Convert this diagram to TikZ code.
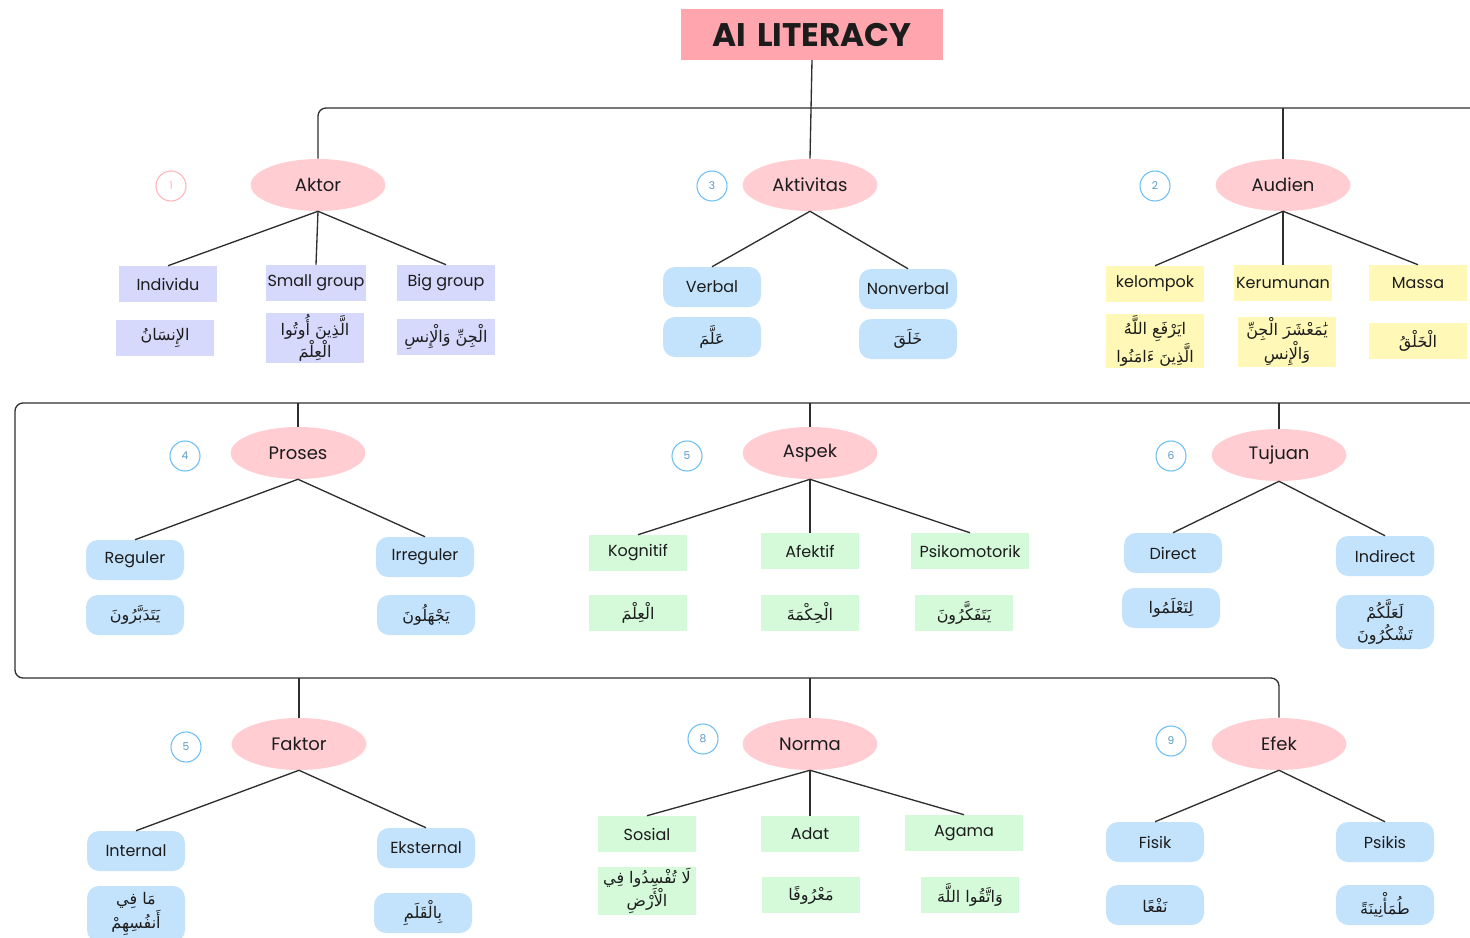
\documentclass[tikz,border=0pt]{standalone}
\usepackage{fontspec}
\usetikzlibrary{shapes.geometric}
\setmainfont{Poppins}
\newfontfamily\arabicfont[Script=Arabic]{DejaVu Sans}
\TeXXeTstate=1
\newcommand{\ar}[1]{{\arabicfont\beginR #1\endR}}
\definecolor{titlepink}{HTML}{FFA5AE}
\definecolor{catpink}{HTML}{FFCDD2}
\definecolor{lav}{HTML}{D6D8FC}
\definecolor{sky}{HTML}{C3E3FD}
\definecolor{lemon}{HTML}{FFF8B6}
\definecolor{mint}{HTML}{D4FADA}
\definecolor{ringpink}{HTML}{FFB3BB}
\definecolor{ringblue}{HTML}{6DBEF3}
\definecolor{ink}{HTML}{1C1C1C}
\definecolor{wire}{HTML}{2E2E2E}
\tikzset{
  cat/.style={ellipse, fill=catpink, minimum width=101pt, minimum height=39pt, inner sep=0pt,
    text=ink, font=\fontsize{13.5}{16}\selectfont},
  flat/.style={rectangle, minimum width=73.5pt, minimum height=27pt, inner sep=1pt,
    text=ink, align=center, font=\fontsize{12}{14}\selectfont},
  lavbox/.style={flat, fill=lav},
  lembox/.style={flat, fill=lemon},
  mintbox/.style={flat, fill=mint},
  skybox/.style={flat, fill=sky, rounded corners=9pt, minimum height=30pt},
  num/.style={circle, draw, line width=0.8pt, minimum size=22.5pt, inner sep=0pt,
    font=\fontsize{8}{9}\selectfont},
  numpink/.style={num, draw=ringpink, text=ringpink},
  numblue/.style={num, draw=ringblue, text=ringblue!80!black},
  link/.style={draw=wire, line width=1pt},
}
\begin{document}
\begin{tikzpicture}[x=0.75pt,y=-0.75pt]
\useasboundingbox (0,0) rectangle (1470,938);

% title
\node[rectangle, fill=titlepink, minimum width=196.5pt, minimum height=38pt, inner sep=0pt,
  text=ink, font=\fontsize{24.5}{28}\bfseries\selectfont] (title) at (812,34.5) {AI\,\,LITERACY};

% ---------- first row ----------
\node[cat] (aktor) at (318,185) {Aktor};
\node[cat] (aktiv) at (810,185) {Aktivitas};
\node[cat] (audien) at (1283,185) {Audien};

\node[numpink] (n1) at (171,186) {1};
\node[numblue] (n3) at (712,186) {3};
\node[numblue] (n2) at (1155,186) {2};

\coordinate (topR) at (1470,108);
\draw[link] (title.south) -- (aktiv.north);
\draw[link, rounded corners=6pt] (aktor.north) |- (topR);
\draw[link] (audien.north) -- (audien.north |- topR);

% Aktor
\node[lavbox] (indiv) at (168,284) {Individu};
\node[lavbox] (small) at (316,283) {Small group};
\node[lavbox] (big) at (446,283) {Big group};
\node[lavbox] (a1) at (165,338) {\ar{الإِنسَانُ}};
\node[lavbox, minimum height=37pt] (a2) at (315,338) {\ar{الَّذِينَ أُوتُوا}\\\ar{الْعِلْمَ}};
\node[lavbox] (a3) at (446,337) {\ar{الْجِنِّ وَالْإِنسِ}};
\foreach \c in {indiv,small,big} \draw[link] (aktor.south) -- (\c.north);

% Aktivitas
\node[skybox] (verbal) at (712,287) {Verbal};
\node[skybox] (nonverbal) at (908,289) {Nonverbal};
\node[skybox] (b1) at (712,337) {\ar{عَلَّمَ}};
\node[skybox] (b2) at (908,339) {\ar{خَلَقَ}};
\foreach \c in {verbal,nonverbal} \draw[link] (aktiv.south) -- (\c.north);

% Audien
\node[lembox] (kel) at (1155,284) {kelompok};
\node[lembox] (ker) at (1283,283) {Kerumunan};
\node[lembox] (mas) at (1418,283) {Massa};
\node[lembox, minimum height=37.5pt] (c1) at (1155,341) {\ar{ايَرْفَعِ اللَّهُ}\\\ar{الَّذِينَ ءَامَنُوا}};
\node[lembox, minimum height=36pt] (c2) at (1287,342) {\ar{يَٰمَعْشَرَ الْجِنِّ}\\\ar{وَالْإِنسِ}};
\node[lembox] (c3) at (1418,341) {\ar{الْخَلْقُ}};
\foreach \c in {kel,ker,mas} \draw[link] (audien.south) -- (\c.north);

% ---------- frame around the second row ----------
\coordinate (fTR) at (1470,403);
\coordinate (fBL) at (15,678);
\node[cat] (proses) at (298,453) {Proses};
\node[cat] (aspek) at (810,453) {Aspek};
\node[cat] (tujuan) at (1279,455) {Tujuan};
\node[cat] (faktor) at (299,744) {Faktor};
\node[cat] (norma) at (810,744) {Norma};
\node[cat] (efek) at (1279,744) {Efek};

\draw[link, rounded corners=6pt] (fTR) -| (fBL) -| (efek.north);
\foreach \c in {proses,aspek,tujuan} \draw[link] (\c.north) -- (\c.north |- fTR);
\foreach \c in {faktor,norma} \draw[link] (\c.north) -- (\c.north |- fBL);

\node[numblue] (n4) at (185,456) {4};
\node[numblue] (n5) at (687,456) {5};
\node[numblue] (n6) at (1171,456) {6};
\node[numblue] (n5b) at (186,747) {5};
\node[numblue] (n8) at (703,739) {8};
\node[numblue] (n9) at (1171,741) {9};

% Proses
\node[skybox] (reg) at (135,560) {Reguler};
\node[skybox] (irr) at (425,557) {Irreguler};
\node[skybox] (d1) at (135,615) {\ar{يَتَدَبَّرُونَ}};
\node[skybox] (d2) at (426,615) {\ar{يَجْهَلُونَ}};
\foreach \c in {reg,irr} \draw[link] (proses.south) -- (\c.north);

% Aspek
\node[mintbox] (kog) at (638,553) {Kognitif};
\node[mintbox] (afe) at (810,551) {Afektif};
\node[mintbox, minimum width=89pt] (psi) at (970,551) {Psikomotorik};
\node[mintbox] (e1) at (638,613) {\ar{الْعِلْمَ}};
\node[mintbox] (e2) at (810,613) {\ar{الْحِكْمَةَ}};
\node[mintbox] (e3) at (964,613) {\ar{يَتَفَكَّرُونَ}};
\foreach \c in {kog,afe,psi} \draw[link] (aspek.south) -- (\c.north);

% Tujuan
\node[skybox] (dir) at (1173,553) {Direct};
\node[skybox] (ind) at (1385,556) {Indirect};
\node[skybox] (f1) at (1171,608) {\ar{لِتَعْلَمُوا}};
\node[skybox, minimum height=40.5pt] (f2) at (1385,622) {\ar{لَعَلَّكُمْ}\\\ar{تَشْكُرُونَ}};
\foreach \c in {dir,ind} \draw[link] (tujuan.south) -- (\c.north);

% Faktor
\node[skybox] (int) at (136,851) {Internal};
\node[skybox] (eks) at (426,848) {Eksternal};
\node[skybox, minimum height=42pt] (g1) at (136,914) {\ar{مَا فِي}\\\ar{أَنفُسِهِمْ}};
\node[skybox] (g2) at (423,913) {\ar{بِالْقَلَمِ}};
\foreach \c in {int,eks} \draw[link] (faktor.south) -- (\c.north);

% Norma
\node[mintbox] (sos) at (647,834) {Sosial};
\node[mintbox] (ada) at (810,834) {Adat};
\node[mintbox, minimum width=89pt] (aga) at (964,833) {Agama};
\node[mintbox, minimum height=35pt] (h1) at (647,891) {\ar{لَا تُفْسِدُوا فِي}\\\ar{الْأَرْضِ}};
\node[mintbox] (h2) at (811,895) {\ar{مَعْرُوفًا}};
\node[mintbox] (h3) at (970,895) {\ar{وَاتَّقُوا اللَّهَ}};
\foreach \c in {sos,ada,aga} \draw[link] (norma.south) -- (\c.north);

% Efek
\node[skybox] (fis) at (1155,842) {Fisik};
\node[skybox] (psk) at (1385,842) {Psikis};
\node[skybox] (k1) at (1155,905) {\ar{نَفْعًا}};
\node[skybox] (k2) at (1385,905) {\ar{طُمَأْنِينَةً}};
\foreach \c in {fis,psk} \draw[link] (efek.south) -- (\c.north);
\end{tikzpicture}
\end{document}
